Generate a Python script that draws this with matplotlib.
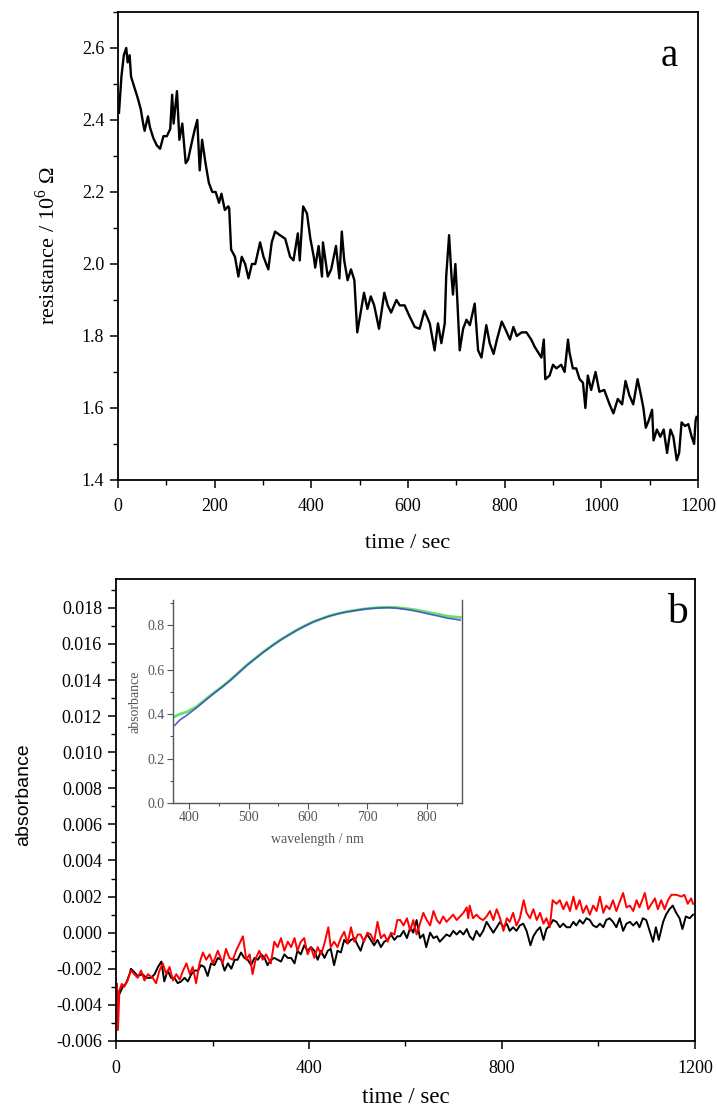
import matplotlib
matplotlib.use("Agg")
import matplotlib.pyplot as plt
from matplotlib.ticker import MultipleLocator, FormatStrFormatter

# panel a: resistance trace (time in s, resistance in 10^6 ohm)
res_time = [2, 7, 12, 17, 20, 24, 27, 34, 41, 47, 52, 55, 62, 66, 73, 80, 87, 94, 101, 108,
            112, 115, 122, 127, 133, 140, 145, 153, 159, 164, 169, 174, 181, 188, 195, 202, 209, 214, 221, 228,
            230, 234, 242, 249, 256, 263, 270, 277, 284, 294, 301, 311, 318, 325, 335, 346, 356, 363, 372, 376,
            383, 391, 398, 405, 408, 415, 422, 424, 434, 441, 451, 458, 463, 468, 475, 482, 489, 493, 495, 502,
            509, 516, 523, 530, 540, 551, 558, 565, 576, 583, 593, 603, 614, 624, 634, 645, 655, 662, 669, 676,
            679, 685, 690, 693, 698, 702, 707, 714, 721, 728, 738, 745, 752, 762, 769,
            777, 784, 794, 801, 811, 818, 825, 835, 845, 855, 862, 869, 876, 881, 884, 893, 900, 907, 917, 924,
            931, 934, 941, 948, 955, 962, 967, 972, 979, 988, 996, 1006, 1017, 1025, 1034, 1043, 1050, 1058, 1066, 1075,
            1082, 1087, 1092, 1098, 1105, 1108, 1115, 1122, 1129, 1136, 1143, 1149, 1156, 1161, 1166, 1173, 1180, 1187,
            1192, 1195, 1197]
res_val = [2.42, 2.52, 2.58, 2.60, 2.56, 2.58, 2.52, 2.49, 2.46, 2.43, 2.39, 2.37, 2.41, 2.38, 2.35, 2.33, 2.32, 2.355, 2.355, 2.375,
           2.47, 2.39, 2.48, 2.345, 2.39, 2.28, 2.29, 2.34, 2.375, 2.40, 2.26, 2.345, 2.28, 2.225, 2.20, 2.20, 2.17, 2.195, 2.15, 2.16,
           2.155, 2.04, 2.02, 1.965, 2.02, 2.00, 1.96, 2.00, 2.00, 2.06, 2.02, 1.985, 2.06, 2.09, 2.08, 2.07, 2.02, 2.01, 2.085, 2.01,
           2.16, 2.14, 2.07, 2.02, 1.99, 2.05, 1.965, 2.06, 1.965, 1.985, 2.05, 1.96, 2.09, 2.01, 1.955, 1.985, 1.955, 1.855, 1.81, 1.865,
           1.92, 1.875, 1.91, 1.885, 1.82, 1.92, 1.885, 1.865, 1.90, 1.885, 1.885, 1.855, 1.825, 1.82, 1.87, 1.835, 1.76, 1.835, 1.78, 1.835,
           1.965, 2.08, 1.965, 1.915, 2.00, 1.90, 1.76, 1.82, 1.845, 1.83, 1.89, 1.76, 1.74, 1.83, 1.78,
           1.75, 1.79, 1.84, 1.82, 1.79, 1.825, 1.80, 1.81, 1.81, 1.79, 1.77, 1.755, 1.74, 1.79, 1.68, 1.69, 1.72, 1.71, 1.72, 1.70,
           1.79, 1.755, 1.71, 1.71, 1.68, 1.67, 1.60, 1.69, 1.65, 1.70, 1.645, 1.65, 1.61, 1.585, 1.625, 1.61, 1.675, 1.635, 1.61, 1.68,
           1.635, 1.60, 1.545, 1.565, 1.595, 1.51, 1.54, 1.52, 1.54, 1.475, 1.54, 1.52, 1.455, 1.475, 1.56, 1.55, 1.555, 1.52,
           1.50, 1.565, 1.575]

# panel b: absorbance vs time, red and black runs
red_time = [2, 4, 7, 12, 17, 24, 31, 38, 45, 52, 59, 66, 76, 83, 90, 97, 104, 111, 118, 125,
            132, 139, 146, 153, 159, 166, 173, 180, 187, 194, 201, 211, 221, 228, 235, 242, 249, 256, 263, 270,
            277, 283, 290, 297, 304, 311, 321, 328, 335, 342, 349, 356, 363, 370, 376, 383, 390, 397, 404, 411,
            418, 425, 432, 440, 445, 452, 459, 466, 473, 480, 487, 494, 501, 507, 514, 521, 528, 535, 542, 549,
            556, 563, 570, 577, 583, 589, 596, 603, 610, 616, 623, 630, 637, 644, 651, 658, 665, 671, 678, 685,
            692, 699, 706, 713, 720, 727, 730, 733, 740, 747, 754, 761, 768, 775, 782, 789, 796, 803, 810, 816,
            823, 830, 837, 845, 851, 858, 865, 872, 879, 886, 892, 899, 905, 913, 920, 927, 934, 941, 948, 954,
            961, 968, 975, 982, 989, 996, 1003, 1010, 1016, 1023, 1030, 1037, 1044, 1051, 1058, 1065, 1072, 1079, 1085, 1096,
            1103, 1110, 1117, 1123, 1130, 1137, 1144, 1151, 1161, 1172, 1178, 1185, 1192, 1196]
red_abs = [-0.00284, -0.0054, -0.0032, -0.00284, -0.0030, -0.00265, -0.0021, -0.0023, -0.0025, -0.0021, -0.00265, -0.0023, -0.0025, -0.0028, -0.0021, -0.0017, -0.0023, -0.0019, -0.00265, -0.0023,
           -0.0026, -0.0021, -0.0017, -0.0023, -0.0019, -0.0028, -0.0017, -0.0011, -0.0015, -0.0012, -0.0017, -0.0010, -0.0017, -0.0009, -0.0014, -0.0015, -0.0010, -0.0006, -0.0002, -0.0015,
           -0.0012, -0.0023, -0.0014, -0.0010, -0.0015, -0.0012, -0.0017, -0.0005, -0.0008, -0.0003, -0.0010, -0.0005, -0.0008, -0.0003, -0.0010, -0.0005, -0.0003, -0.0012, -0.0008, -0.0014,
           -0.0008, -0.0012, -0.0006, 0.0003, -0.0008, -0.0005, -0.0008, -0.0003, 0.00005, -0.0006, 0.0003, -0.0005, -0.0001, -0.0001, -0.0005, 0.0, -0.0001, -0.0005, 0.0006, -0.0003,
           -0.0001, -0.0005, 0.0, -0.0001, 0.0007, 0.0007, 0.0004, 0.0008, 0.0001, 0.0007, -0.0001, 0.0005, 0.0011, 0.0007, 0.0004, 0.0012, 0.0007, 0.0005, 0.0009, 0.0006,
           0.0008, 0.0010, 0.0007, 0.0009, 0.0011, 0.0014, 0.0008, 0.0015, 0.0008, 0.0010, 0.0008, 0.0007, 0.0009, 0.0012, 0.0007, 0.0013, 0.0008, 0.0001, 0.0008, 0.0006,
           0.0011, 0.0004, 0.0008, 0.0018, 0.0011, 0.0008, 0.0013, 0.0007, 0.0011, 0.0005, 0.0008, 0.0003, 0.0018, 0.0016, 0.0018, 0.0013, 0.0017, 0.0012, 0.0020, 0.0013,
           0.0018, 0.0011, 0.0015, 0.0010, 0.0015, 0.0012, 0.0020, 0.0011, 0.0015, 0.0013, 0.0018, 0.0012, 0.0017, 0.0022, 0.0014, 0.0015, 0.0012, 0.0018, 0.0014, 0.0022,
           0.0013, 0.0016, 0.0019, 0.0013, 0.0018, 0.0013, 0.0018, 0.0021, 0.0021, 0.0020, 0.0021, 0.0016, 0.0019, 0.0016]

black_time = [2, 7, 14, 21, 28, 31, 38, 45, 55, 62, 73, 80, 87, 94, 100, 107, 114, 121, 128, 135,
              142, 149, 156, 163, 170, 176, 183, 190, 197, 204, 211, 218, 225, 232, 239, 246, 252, 259, 266, 273,
              280, 287, 294, 301, 308, 314, 321, 328, 335, 342, 349, 356, 363, 370, 376, 383, 390, 397, 404, 411,
              418, 425, 432, 439, 445, 452, 459, 466, 473, 480, 487, 494, 501, 507, 514, 521, 528, 535, 542, 549,
              556, 563, 570, 577, 583, 589, 596, 603, 610, 616, 623, 630, 637, 643, 651, 658, 665, 671, 678, 685,
              692, 699, 706, 713, 720, 727, 733, 740, 747, 754, 761, 768, 775, 782, 789, 796, 803, 810, 816, 823,
              830, 837, 844, 851, 859, 865, 872, 879, 886, 892, 899, 906, 913, 920, 927, 934, 941, 948, 954, 961,
              968, 975, 982, 989, 996, 1003, 1010, 1016, 1023, 1030, 1037, 1044, 1051, 1058, 1065, 1072, 1079, 1085, 1092, 1099,
              1106, 1113, 1119, 1125, 1134, 1140, 1147, 1154, 1161, 1168, 1174, 1181, 1189, 1196]
black_abs = [-0.0032, -0.0034, -0.0030, -0.0028, -0.0023, -0.0020, -0.0022, -0.0024, -0.0023, -0.0025, -0.0025, -0.0023, -0.0019, -0.0016, -0.0027, -0.0021, -0.0025, -0.0025, -0.0028, -0.0027,
             -0.0025, -0.0027, -0.0023, -0.0021, -0.0021, -0.0018, -0.0019, -0.0024, -0.0017, -0.0018, -0.0014, -0.0015, -0.0021, -0.0017, -0.0020, -0.0015, -0.0015, -0.0011, -0.0014, -0.0015,
             -0.0018, -0.0014, -0.0015, -0.0012, -0.0014, -0.0018, -0.0015, -0.0014, -0.0015, -0.0016, -0.0012, -0.0014, -0.0014, -0.0017, -0.0010, -0.0012, -0.0007, -0.0010, -0.0008, -0.0010,
             -0.0015, -0.0010, -0.0014, -0.0010, -0.0009, -0.0018, -0.0010, -0.0011, -0.0004, -0.0006, -0.0004, -0.0003, -0.0007, -0.0010, -0.0004, -0.0001, -0.0004, -0.0007, -0.0004, -0.0008,
             -0.0005, -0.0004, -0.0001, -0.0004, -0.0002, -0.0002, 0.0001, -0.0003, 0.0003, 0.0, 0.0007, -0.0003, -0.0001, -0.0008, 0.0, -0.0003, -0.0002, -0.0005, -0.0003, -0.0001,
             -0.0002, 0.0001, -0.0001, 0.0001, -0.0001, 0.0002, -0.0002, -0.0004, 0.0001, -0.0002, 0.0001, 0.0006, 0.0003, 0.0, 0.0003, 0.0006, 0.0003, 0.0005, 0.0001, 0.0003,
             0.0001, 0.0004, 0.0005, 0.0001, -0.0007, -0.0002, 0.0001, 0.0003, -0.0004, 0.0002, 0.0004, 0.0007, 0.0006, 0.0003, 0.0005, 0.0003, 0.0003, 0.0006, 0.0004, 0.0007,
             0.0005, 0.0008, 0.0007, 0.0004, 0.0003, 0.0005, 0.0003, 0.0007, 0.0008, 0.0006, 0.0003, 0.0008, 0.0001, 0.0005, 0.0006, 0.0004, 0.0006, 0.0003, 0.0008, 0.0007,
             0.0001, -0.0005, 0.0003, -0.0004, 0.0006, 0.0010, 0.0013, 0.0015, 0.0011, 0.0008, 0.0002, 0.0009, 0.0008, 0.0010]

# inset: absorption spectra
wavelength = [376, 384, 396, 412, 440, 455, 469, 483, 497, 511, 525, 539, 553, 567, 581, 595, 609, 623, 637, 651,
              665, 679, 693, 707, 721, 735, 749, 763, 777, 791, 806, 820, 834, 845, 856]
spec_green = [0.39, 0.40, 0.41, 0.433, 0.493, 0.523, 0.553, 0.587, 0.621, 0.651, 0.681, 0.708, 0.734, 0.757, 0.779, 0.799, 0.817, 0.831, 0.844, 0.854,
              0.862, 0.868, 0.874, 0.878, 0.881, 0.882, 0.881, 0.877, 0.872, 0.865, 0.857, 0.850, 0.842, 0.839, 0.836]
spec_blue = [0.35, 0.373, 0.395, 0.428, 0.490, 0.521, 0.552, 0.586, 0.620, 0.650, 0.680, 0.707, 0.733, 0.756, 0.778, 0.798, 0.816, 0.830, 0.843, 0.853,
             0.861, 0.867, 0.873, 0.877, 0.879, 0.880, 0.878, 0.873, 0.867, 0.859, 0.850, 0.842, 0.833, 0.829, 0.824]

SERIF = "Liberation Serif"
INSET_GREY = "#555555"

plt.rcParams.update({
    "font.family": SERIF,
    "mathtext.fontset": "custom",
    "mathtext.rm": SERIF,
    "xtick.direction": "out",
    "ytick.direction": "out",
    "xtick.major.size": 6,
    "ytick.major.size": 6,
    "xtick.minor.size": 3.5,
    "ytick.minor.size": 3.5,
    "xtick.major.width": 1.1,
    "ytick.major.width": 1.1,
    "xtick.minor.width": 1.0,
    "ytick.minor.width": 1.0,
    "axes.linewidth": 1.3,
})

fig = plt.figure(figsize=(7.17, 11.1), dpi=100)

# ---- panel a
ax_a = fig.add_axes([0.1646, 0.5676, 0.8089, 0.4216])
ax_a.plot(res_time, res_val, color="black", lw=1.7)
ax_a.set_xlim(0, 1200)
ax_a.set_ylim(1.4, 2.7)
ax_a.xaxis.set_major_locator(MultipleLocator(200))
ax_a.xaxis.set_minor_locator(MultipleLocator(100))
ax_a.yaxis.set_major_locator(MultipleLocator(0.2))
ax_a.yaxis.set_minor_locator(MultipleLocator(0.1))
ax_a.yaxis.set_major_formatter(FormatStrFormatter("%.1f"))
ax_a.tick_params(axis="y", labelsize=13, pad=4)
ax_a.tick_params(axis="x", labelsize=13, pad=7)
ax_a.set_xlabel("time / sec", fontsize=16, labelpad=14)
ax_a.set_ylabel("resistance / 10$^{\\mathrm{6}}$ \u03a9", fontsize=16, labelpad=16)
ax_a.text(0.95, 0.905, "a", transform=ax_a.transAxes, fontsize=28,
          ha="center", va="center")

# ---- panel b
ax_b = fig.add_axes([0.1618, 0.0622, 0.8075, 0.4162])
ax_b.plot(black_time, black_abs, color="black", lw=1.4)
ax_b.plot(red_time, red_abs, color="#ff0000", lw=1.4)
ax_b.set_xlim(0, 1200)
ax_b.set_ylim(-0.006, 0.0196)
ax_b.xaxis.set_major_locator(MultipleLocator(400))
ax_b.xaxis.set_minor_locator(MultipleLocator(200))
ax_b.yaxis.set_major_locator(MultipleLocator(0.002))
ax_b.yaxis.set_minor_locator(MultipleLocator(0.001))
ax_b.yaxis.set_major_formatter(FormatStrFormatter("%.3f"))
ax_b.tick_params(axis="y", labelsize=13, pad=4)
ax_b.tick_params(axis="x", labelsize=13, pad=8)
ax_b.set_xlabel("time / sec", fontsize=16.5, labelpad=7)
ax_b.set_ylabel("absorbance", fontsize=14, family="Liberation Sans")
ax_b.yaxis.set_label_coords(-0.145, 0.532)
ax_b.text(0.969, 0.926, "b", transform=ax_b.transAxes, fontsize=30,
          ha="center", va="center")

# ---- inset spectrum
ax_in = fig.add_axes([0.2413, 0.2766, 0.4031, 0.1829])
ax_in.patch.set_alpha(0)
ax_in.plot(wavelength, spec_green, color="#66e066", lw=2.0)
ax_in.plot(wavelength, spec_blue, color="#3344cc", lw=1.2, alpha=0.85)
ax_in.set_xlim(373, 859)
ax_in.set_ylim(0, 0.915)
ax_in.spines["top"].set_visible(False)
for side in ("left", "right", "bottom"):
    ax_in.spines[side].set_color(INSET_GREY)
    ax_in.spines[side].set_linewidth(1.0)
ax_in.xaxis.set_major_locator(MultipleLocator(100))
ax_in.xaxis.set_minor_locator(MultipleLocator(50))
ax_in.yaxis.set_major_locator(MultipleLocator(0.2))
ax_in.yaxis.set_minor_locator(MultipleLocator(0.1))
ax_in.yaxis.set_major_formatter(FormatStrFormatter("%.1f"))
ax_in.tick_params(which="both", colors=INSET_GREY, labelsize=10, pad=2, width=0.8)
ax_in.tick_params(which="major", length=4)
ax_in.tick_params(which="minor", length=2)
ax_in.set_xlabel("wavelength / nm", fontsize=10, color=INSET_GREY, labelpad=6)
ax_in.set_ylabel("absorbance", fontsize=10, color=INSET_GREY, labelpad=4)

fig.savefig("out.png", dpi=100)
